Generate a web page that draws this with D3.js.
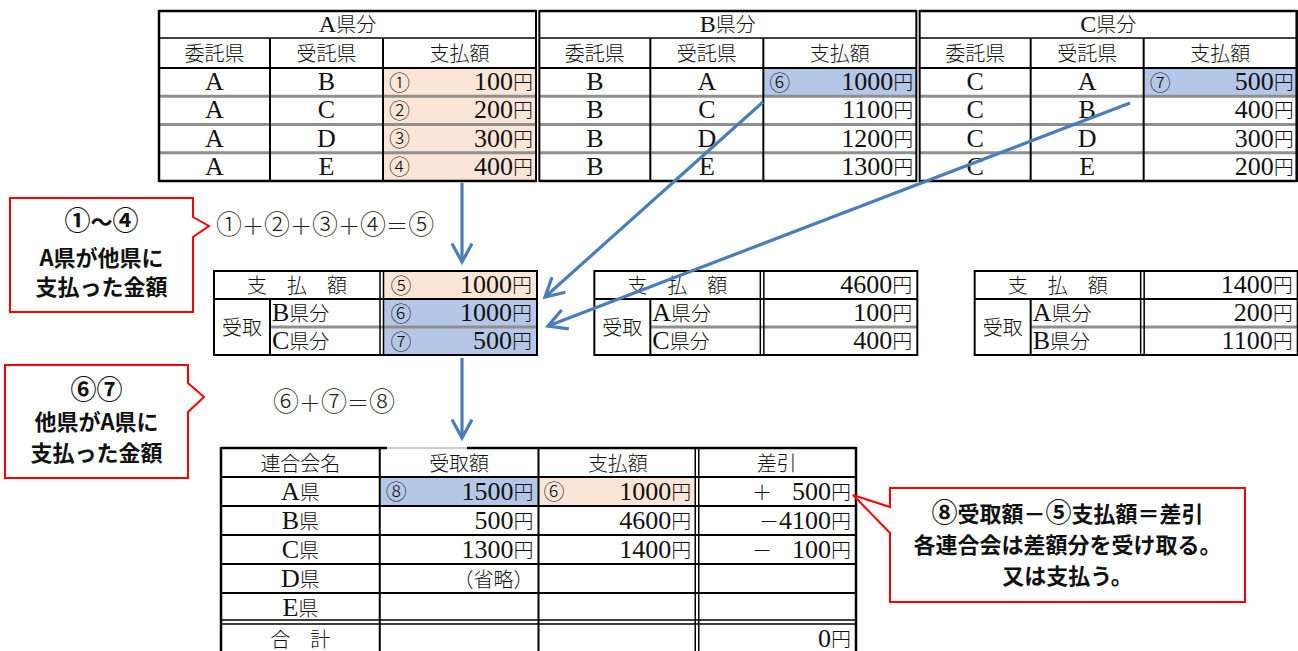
<!DOCTYPE html>
<html><head><meta charset="utf-8">
<script src="https://cdn.jsdelivr.net/npm/d3@7"></script>
<style>body{margin:0;background:#fff}svg{display:block}</style>
</head><body>
<svg id="c" width="1298" height="651"></svg>
<script>
// ---------- data ----------
const groups = ["A県分", "B県分", "C県分"];
const colHeaders = ["委託県", "受託県", "支払額"];
const clients = ["A", "B", "C"];
const partners = [["B", "C", "D", "E"], ["A", "C", "D", "E"], ["A", "B", "D", "E"]];
const payments = [[100, 200, 300, 400], [1000, 1100, 1200, 1300], [500, 400, 300, 200]];
const paymentMarks = [["①", "②", "③", "④"], ["⑥", "", "", ""], ["⑦", "", "", ""]];
const paymentShade = [["p", "p", "p", "p"], ["b", "", "", ""], ["b", "", "", ""]];

const payLabel = "支　払　額";
const receiveLabel = "受取";
const payTotals = [1000, 4600, 1400];
const payTotalMarks = ["⑤", "", ""];
const payTotalShade = ["p", "", ""];
const receiveFrom = [["B県分", "C県分"], ["A県分", "C県分"], ["A県分", "B県分"]];
const receiveValues = [[1000, 500], [100, 400], [200, 1100]];
const receiveMarks = [["⑥", "⑦"], ["", ""], ["", ""]];
const receiveShade = [["b", "b"], ["", ""], ["", ""]];

const summaryHeaders = ["連合会名", "受取額", "支払額", "差引"];
const unions = ["A県", "B県", "C県", "D県", "E県"];
const receivedAmt = ["1500円", "500円", "1300円", "（省略）", ""];
const receivedMarks = ["⑧", "", "", "", ""];
const receivedShade = ["b", "", "", "", ""];
const paidAmt = ["1000円", "4600円", "1400円", "", ""];
const paidMarks = ["⑥", "", "", "", ""];
const paidShade = ["p", "", "", "", ""];
const balanceAmt = ["＋　500円", "－4100円", "－　100円", "", ""];
const totalLabel = "合　計";
const totalBalance = "0円";

const formula1 = "①＋②＋③＋④＝⑤";
const formula2 = "⑥＋⑦＝⑧";
const note1 = ["①～④", "A県が他県に", "支払った金額"];
const note2 = ["⑥⑦", "他県がA県に", "支払った金額"];
const note3 = ["⑧受取額－⑤支払額＝差引", "各連合会は差額分を受け取る。", "又は支払う。"];

// ---------- style ----------
const PEACH = "#fbe5d6", BLUE = "#b4c7e7", ARROW = "#4a7ebb", RED = "#ff0000", GRAY = "#8f8f8f", INK = "#111";
const CJK = "'Noto Sans CJK JP'";
const SERIF = "'Liberation Serif','DejaVu Serif',serif";
const CIRC_RE = /^[①-⑳]$/;
const shadeColor = s => s === "p" ? PEACH : s === "b" ? BLUE : null;
const yen = v => v + "円";

const svg = d3.select("#c");
const gShade = svg.append("g"), gLine = svg.append("g"), gText = svg.append("g"), gDeco = svg.append("g");

function addText(x, y, str, anchor, opts = {}) {
  const t = gText.append("text").attr("x", x).attr("y", y).attr("text-anchor", anchor)
    .attr("fill", opts.fill || INK);
  const parts = str.split(/([A-Za-z0-9]+|[①-⑳])/).filter(s => s.length);
  parts.forEach(p => {
    const ts = t.append("tspan");
    if (/^[A-Za-z0-9]+$/.test(p)) ts.attr("font-family", SERIF).attr("font-size", opts.latin || 26);
    else if (CIRC_RE.test(p)) ts.attr("font-family", CJK).attr("font-weight", 300).attr("font-size", opts.circ || 21);
    else ts.attr("font-family", CJK).attr("font-weight", 300).attr("font-size", opts.cjk || 20);
    ts.text(p);
  });
  return t;
}
// a column of circled markers
function markColumn(x, items) {
  items.filter(d => d.m).forEach(d =>
    gText.append("text").attr("x", x).attr("y", d.y).attr("font-family", CJK).attr("font-weight", 300)
      .attr("font-size", 21).attr("fill", INK).text(d.m));
}
function line(x1, y1, x2, y2, color, w) {
  gLine.append("line").attr("x1", x1).attr("y1", y1).attr("x2", x2).attr("y2", y2)
    .attr("stroke", color).attr("stroke-width", w);
}
function cell(x1, y1, x2, y2, s) {
  const c = shadeColor(s);
  if (c) gShade.append("rect").attr("x", x1).attr("y", y1).attr("width", x2 - x1).attr("height", y2 - y1).attr("fill", c);
}
const BASE = 8; // baseline offset from row centre

// ---------- top table ----------
const groupX = d3.scaleLinear().domain([0, 3]).range([159, 1300]);
const colOff = [0, 111, 224, 377];
const headY = [11, 38, 68];
const rowY = d3.scaleLinear().domain([0, 4]).range([68, 181]);

groups.forEach((gname, g) => {
  const gx = groupX(g);
  const cx = colOff.map(d => gx + d);
  payments[g].forEach((v, r) => cell(cx[2], rowY(r), cx[3], rowY(r + 1), paymentShade[g][r]));
  addText((cx[0] + cx[3]) / 2, (headY[0] + headY[1]) / 2 + BASE - 1, gname, "middle", { latin: 24 });
  colHeaders.forEach((h, i) => addText((cx[i] + cx[i + 1]) / 2, (headY[1] + headY[2]) / 2 + BASE, h, "middle"));
  payments[g].forEach((v, r) => {
    const yc = (rowY(r) + rowY(r + 1)) / 2 + BASE;
    addText((cx[0] + cx[1]) / 2, yc, clients[g], "middle");
    addText((cx[1] + cx[2]) / 2, yc, partners[g][r], "middle");
    addText(cx[3] - 3, yc, yen(v), "end");
  });
  markColumn(cx[2] + 6, payments[g].map((v, r) => ({ m: paymentMarks[g][r], y: (rowY(r) + rowY(r + 1)) / 2 + 7.5 })));
  line(cx[0], headY[0], cx[3], headY[0], "#000", 2.5);
  line(cx[0], headY[1], cx[3], headY[1], "#000", 1.5);
  line(cx[0], headY[2], cx[3], headY[2], "#000", 2);
  [1, 2, 3].forEach(r => line(cx[0], rowY(r), cx[3], rowY(r), GRAY, 3));
  line(cx[0], rowY(4), cx[3], rowY(4), "#000", 2.5);
  line(cx[1], headY[1], cx[1], rowY(4), "#000", 2);
  line(cx[2], headY[1], cx[2], rowY(4), "#000", 2);
  line(cx[0], headY[0] - 1, cx[0], rowY(4) + 1, "#000", g === 0 ? 2.5 : 2);
  line(cx[3], headY[0] - 1, cx[3], rowY(4) + 1, "#000", g === 2 ? 2.5 : 2);
});

// ---------- middle tables ----------
const midY = [271, 299, 327, 355];
groups.forEach((gname, g) => {
  const gx = groupX(g);
  const m = [gx + 55, gx + 111, gx + 221, gx + 224.5, gx + 378];
  cell(m[3], midY[0], m[4], midY[1], payTotalShade[g]);
  receiveValues[g].forEach((v, r) => cell(m[3], midY[r + 1], m[4], midY[r + 2], receiveShade[g][r]));
  addText((m[0] + m[2]) / 2, (midY[0] + midY[1]) / 2 + BASE, payLabel, "middle");
  addText(m[4] - 5, (midY[0] + midY[1]) / 2 + BASE, yen(payTotals[g]), "end");
  addText((m[0] + m[1]) / 2, (midY[1] + midY[3]) / 2 + BASE, receiveLabel, "middle");
  receiveValues[g].forEach((v, r) => {
    const yc = (midY[r + 1] + midY[r + 2]) / 2 + BASE;
    addText(m[1] + 2, yc, receiveFrom[g][r], "start");
    addText(m[4] - 5, yc, yen(v), "end");
  });
  const marks = [payTotalMarks[g]].concat(receiveMarks[g]);
  markColumn(m[3] + 7, marks.map((mk, r) => ({ m: mk, y: (midY[r] + midY[r + 1]) / 2 + 7.5 })));
  line(m[0], midY[0], m[4], midY[0], "#000", 2);
  line(m[0], midY[1], m[4], midY[1], "#000", 2);
  line(m[1], midY[2], m[4], midY[2], GRAY, 3);
  line(m[0], midY[3], m[4], midY[3], "#000", 2);
  line(m[0], midY[0] - 1, m[0], midY[3] + 1, "#000", 2);
  line(m[1], midY[1], m[1], midY[3], "#000", 2);
  line(m[2], midY[0] - 1, m[2], midY[3] + 1, "#000", 1.5);
  line(m[3], midY[0] - 1, m[3], midY[3] + 1, "#000", 1.5);
  line(m[4], midY[0] - 1, m[4], midY[3] + 1, "#000", 2);
});

// ---------- summary table ----------
const bx = d3.scaleLinear().domain([0, 4]).range([221, 856]);
const by = d3.scaleLinear().domain([0, 7]).range([448, 651]);
unions.forEach((u, r) => {
  cell(bx(1), by(r + 1), bx(2), by(r + 2), receivedShade[r]);
  cell(bx(2), by(r + 1), bx(3) - 2, by(r + 2), paidShade[r]);
});
summaryHeaders.forEach((h, i) => addText((bx(i) + bx(i + 1)) / 2, (by(0) + by(1)) / 2 + BASE, h, "middle"));
unions.forEach((u, r) => {
  const yc = (by(r + 1) + by(r + 2)) / 2 + BASE;
  addText((bx(0) + bx(1)) / 2, yc, u, "middle");
  if (receivedAmt[r]) addText(bx(2) - 5, yc, receivedAmt[r], "end");
  if (paidAmt[r]) addText(bx(3) - 6, yc, paidAmt[r], "end");
  if (balanceAmt[r]) addText(bx(4) - 5, yc, balanceAmt[r], "end");
});
markColumn(bx(1) + 6, unions.map((u, r) => ({ m: receivedMarks[r], y: (by(r + 1) + by(r + 2)) / 2 + 7.5 })));
markColumn(bx(2) + 5, unions.map((u, r) => ({ m: paidMarks[r], y: (by(r + 1) + by(r + 2)) / 2 + 7.5 })));
{
  const yc = (by(6) + by(7)) / 2 + BASE + 2;
  addText((bx(0) + bx(1)) / 2, yc, totalLabel, "middle");
  addText(bx(4) - 5, yc, totalBalance, "end");
}
line(bx(0), by(0), 387, by(0), "#000", 2.5);
line(387, by(0), 467, by(0), "#bbb", 1.5);
line(467, by(0), bx(4), by(0), "#000", 2.5);
[1, 2, 3, 4, 5].forEach(r => line(bx(0), by(r), bx(4), by(r), "#000", 2));
line(bx(0), by(6) - 2, bx(4), by(6) - 2, "#000", 1.5);
line(bx(0), by(6) + 2, bx(4), by(6) + 2, "#000", 1.5);
line(bx(0), by(0) - 1, bx(0), by(7), "#000", 2.5);
line(bx(1), by(0), bx(1), by(7), "#000", 2);
line(bx(2), by(0), bx(2), by(7), "#000", 2);
line(bx(3) - 2, by(0), bx(3) - 2, by(7), "#000", 1.5);
line(bx(3) + 1.5, by(0), bx(3) + 1.5, by(7), "#000", 1.5);
line(bx(4), by(0) - 1, bx(4), by(7), "#000", 2.5);

// ---------- formulas ----------
function formula(x, y, str) {
  const t = gText.append("text").attr("x", x).attr("y", y).attr("font-family", CJK)
    .attr("font-weight", 300).attr("fill", "#222");
  Array.from(str).forEach(ch => t.append("tspan").attr("font-size", CIRC_RE.test(ch) ? 26 : 22).text(ch));
}
formula(216, 234, formula1);
formula(273, 411, formula2);

// ---------- arrows ----------
function arrow(x1, y1, x2, y2) {
  const g = gDeco.append("g").attr("stroke", ARROW).attr("stroke-width", 3.2).attr("fill", "none");
  g.append("line").attr("x1", x1).attr("y1", y1).attr("x2", x2).attr("y2", y2);
  const a = Math.atan2(y1 - y2, x1 - x2), L = 21, w = 0.5;
  const p1 = [x2 + L * Math.cos(a + w), y2 + L * Math.sin(a + w)];
  const p2 = [x2 + L * Math.cos(a - w), y2 + L * Math.sin(a - w)];
  g.append("path").attr("d", `M${p1[0]},${p1[1]}L${x2},${y2}L${p2[0]},${p2[1]}`);
}
arrow(462, 183, 462, 262);
arrow(763, 102, 545, 297);
arrow(1130, 103, 548, 326);
arrow(462, 358, 462, 438);

// ---------- callouts ----------
function callout(d, lines, cx, ys) {
  gDeco.append("path").attr("d", d).attr("fill", "#fff").attr("stroke", RED).attr("stroke-width", 2);
  lines.forEach((str, i) => {
    const t = gDeco.append("text").attr("x", cx).attr("y", ys[i]).attr("text-anchor", "middle")
      .attr("font-family", CJK).attr("font-weight", "bold").attr("fill", "#111");
    str.split(/([①-⑳])/).filter(s => s.length)
      .forEach(p => t.append("tspan").attr("font-size", CIRC_RE.test(p) ? 26 : 22).text(p));
  });
}
callout("M10,198H193V217L209,226L193,237V312H10Z", note1, 101.5, [230, 266, 295]);
callout("M5,365H188V383L204,397L188,412V478H5Z", note2, 96.5, [399, 430, 461]);
callout("M890,488H1245V602H890V533L853,495L890,507Z", note3, 1067.5, [522, 553, 584]);
</script>
</body></html>
